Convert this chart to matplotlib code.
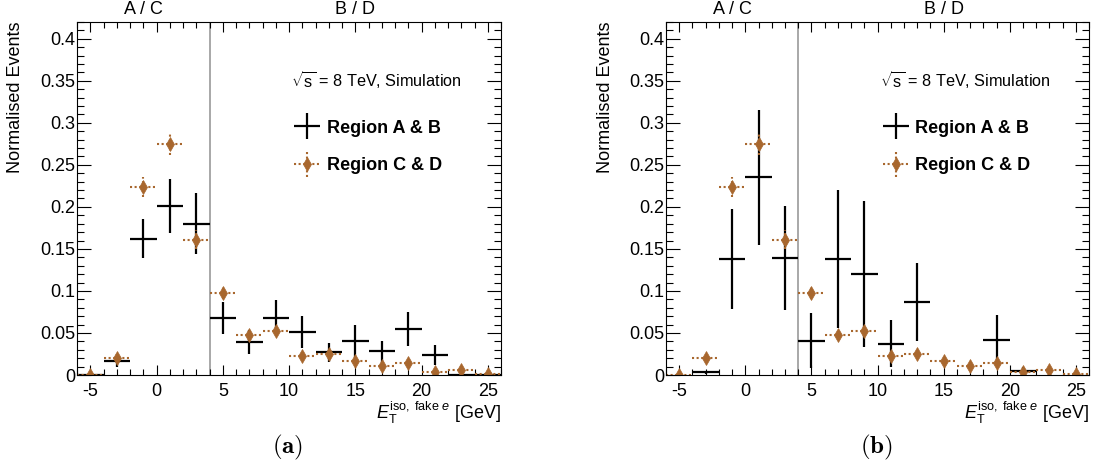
import matplotlib
matplotlib.use("Agg")
import matplotlib.pyplot as plt
from matplotlib.ticker import MultipleLocator, FuncFormatter
from matplotlib.legend_handler import HandlerErrorbar
import numpy as np

plt.rcParams['font.family'] = ['Liberation Sans', 'DejaVu Sans']
plt.rcParams['mathtext.fontset'] = 'custom'
plt.rcParams['mathtext.rm'] = 'Liberation Sans'
plt.rcParams['mathtext.it'] = 'Liberation Sans:italic'
plt.rcParams['mathtext.bf'] = 'Liberation Sans:bold'
plt.rcParams['axes.unicode_minus'] = False

# bin centres (2 GeV bins from -6 to 26)
centres = [-5, -3, -1, 1, 3, 5, 7, 9, 11, 13, 15, 17, 19, 21, 23, 25]

# (a)
ab_a = [0.0, 0.017, 0.162, 0.201, 0.180, 0.068, 0.039, 0.068, 0.051, 0.027, 0.041, 0.028, 0.055, 0.024, 0.0, 0.0]
ab_a_err = [0.0, 0.008, 0.023, 0.032, 0.036, 0.019, 0.014, 0.021, 0.019, 0.011, 0.019, 0.012, 0.020, 0.012, 0.0, 0.0]
cd_a = [0.0, 0.020, 0.224, 0.275, 0.161, 0.098, 0.047, 0.052, 0.023, 0.025, 0.017, 0.011, 0.014, 0.003, 0.006, 0.001]
cd_a_err = [0.001, 0.005, 0.012, 0.013, 0.011, 0.007, 0.005, 0.006, 0.004, 0.004, 0.004, 0.003, 0.004, 0.002, 0.003, 0.001]

# (b)
nan = np.nan
ab_b = [nan, 0.003, 0.138, 0.235, 0.139, 0.041, 0.138, 0.120, 0.037, 0.087, nan, nan, 0.042, 0.005, nan, nan]
ab_b_err = [nan, 0.002, 0.059, 0.080, 0.062, 0.033, 0.082, 0.087, 0.028, 0.046, nan, nan, 0.029, 0.005, nan, nan]
cd_b = cd_a
cd_b_err = cd_a_err

brown = '#A8672E'


def draw(ax, ab, ab_err, cd, cd_err):
    ax.errorbar(centres, ab, yerr=ab_err, xerr=1, fmt='none', ecolor='black',
                elinewidth=1.6, capsize=0, label='Region A & B')
    eb = ax.errorbar(centres, cd, yerr=cd_err, xerr=1, fmt='d', color=brown,
                     markersize=7, markeredgewidth=0.5, elinewidth=1.5, capsize=0,
                     label='Region C & D')
    for lc in eb[2]:
        lc.set_linestyle((0, (1, 1.2)))
    ax.axvline(4, color='#999999', lw=1.2, zorder=0)
    ax.set_xlim(-6, 26)
    ax.set_ylim(0, 0.42)
    ax.xaxis.set_major_locator(MultipleLocator(5))
    ax.xaxis.set_minor_locator(MultipleLocator(1))
    ax.yaxis.set_major_locator(MultipleLocator(0.05))
    ax.yaxis.set_minor_locator(MultipleLocator(0.01))
    ax.yaxis.set_major_formatter(FuncFormatter(lambda v, p: '%g' % round(v, 3)))
    ax.tick_params(which='both', direction='in', top=True, right=True, width=0.8, labelsize=13)
    ax.tick_params(axis='x', which='major', length=7, pad=5.5)
    ax.tick_params(axis='x', which='minor', length=4)
    ax.tick_params(axis='y', which='major', length=10, pad=1.5)
    ax.tick_params(axis='y', which='minor', length=5)
    ax.text(-1, 1.012, 'A / C', transform=ax.get_xaxis_transform(), ha='center', va='bottom', fontsize=13)
    ax.text(15, 1.012, 'B / D', transform=ax.get_xaxis_transform(), ha='center', va='bottom', fontsize=13)
    ax.text(-0.144, 1.0, 'Normalised Events', transform=ax.transAxes, rotation=90,
            ha='center', va='top', fontsize=13)
    ax.text(1.0, -0.07, r'$E_{\mathrm{T}}^{\mathrm{iso,\ fake}\ e}$ [GeV]', transform=ax.transAxes,
            ha='right', va='top', fontsize=13)
    ax.text(0.505, 0.836, r'$\sqrt{\mathrm{s}}$ = 8 TeV, Simulation', transform=ax.transAxes,
            ha='left', va='center', fontsize=11.7)
    ax.legend(loc='upper left', bbox_to_anchor=(0.512, 0.7235), frameon=False,
              prop={'weight': 'bold', 'size': 13}, borderpad=0, borderaxespad=0,
              handlelength=1.45, handletextpad=0.35, labelspacing=1.15,
              handler_map={type(eb): HandlerErrorbar(xerr_size=0.72)})


fig = plt.figure(figsize=(10.96, 4.72), dpi=100)
ax1 = fig.add_axes([0.0703, 0.2055, 0.3869, 0.748])
ax2 = fig.add_axes([0.6077, 0.2055, 0.3860, 0.748])
draw(ax1, ab_a, ab_a_err, cd_a, cd_a_err)
draw(ax2, ab_b, ab_b_err, cd_b, cd_b_err)

fig.text(0.262, 0.053, r'$\mathbf{(a)}$', math_fontfamily='cm', ha='center', va='center', fontsize=18)
fig.text(0.800, 0.053, r'$\mathbf{(b)}$', math_fontfamily='cm', ha='center', va='center', fontsize=18)

fig.savefig('out.png', dpi=100)
